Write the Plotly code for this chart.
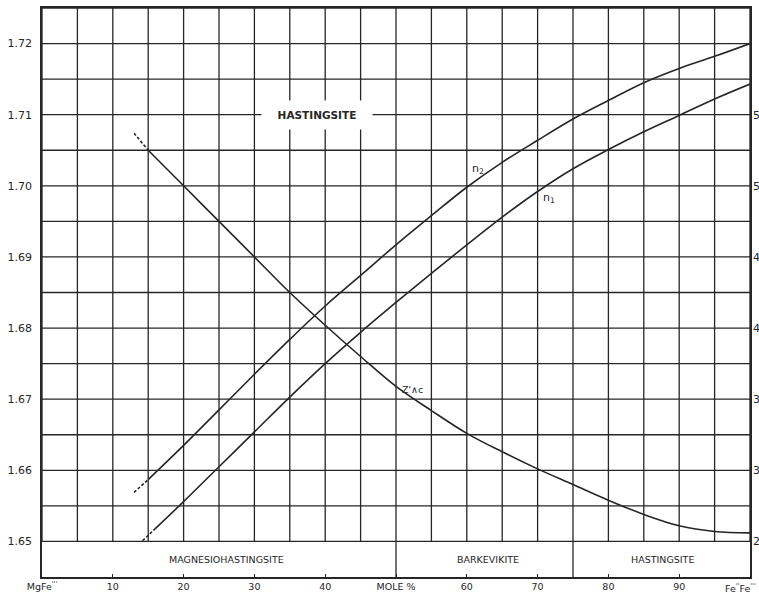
import plotly.graph_objects as go

# Composition (mole % Fe end-member) and measured properties
mole_n2 = [13, 15, 20, 25, 30, 35, 40, 45, 50, 55, 60, 65, 70, 75, 80, 85, 90, 95, 100]
n2 = [1.6569, 1.6587, 1.6635, 1.6685, 1.6735, 1.6784, 1.6831, 1.6874, 1.6917, 1.6958,
      1.6998, 1.7033, 1.7064, 1.7094, 1.7120, 1.7145, 1.7165, 1.7182, 1.7200]

mole_n1 = [14.2, 16, 20, 25, 30, 35, 40, 45, 50, 55, 60, 65, 70, 75, 80, 85, 90, 95, 100]
n1 = [1.6501, 1.6518, 1.6556, 1.6605, 1.6654, 1.6703, 1.6750, 1.6794, 1.6836, 1.6877,
      1.6917, 1.6956, 1.6992, 1.7024, 1.7051, 1.7076, 1.7099, 1.7122, 1.7143]

mole_z = [13, 15, 20, 25, 30, 35, 40, 45, 50, 55, 60, 65, 70, 75, 80, 85, 90, 95, 100]
z_ext = [53.7, 52.5, 50.0, 47.5, 45.0, 42.5, 40.2, 38.0, 35.9, 34.2, 32.6, 31.3,
         30.1, 29.0, 27.9, 26.9, 26.1, 25.7, 25.6]

# Extrapolated (dashed) ends of each curve
n2_dash_to = 15
n1_dash_to = 16
z_dash_to = 15

# Axis labels
x_ticks = [0, 10, 20, 30, 40, 50, 60, 70, 80, 90, 100]
x_ticktext = ["MgFe<sup>'''</sup>", "10", "20", "30", "40", "MOLE %", "60", "70", "80", "90", ""]
fe_end_label = "Fe<sup>''</sup>Fe<sup>'''</sup>"
n_ticks = [1.65, 1.66, 1.67, 1.68, 1.69, 1.70, 1.71, 1.72]
n_ticktext = ["1.65", "1.66", "1.67", "1.68", "1.69", "1.70", "1.71", "1.72"]
angle_ticks = [25, 30, 35, 40, 45, 50, 55]

# Mineral fields along the composition axis
fields = ["MAGNESIOHASTINGSITE", "BARKEVIKITE", "HASTINGSITE"]
field_bounds = [0, 50, 75, 100]
field_centers = [26, 63, 87.7]

INK = "#262626"
FONT = "DejaVu Sans"
Y_LO, Y_BAND, Y_HI = 1.645, 1.65, 1.725


def split(xs, ys, cut):
    """Return the dashed head and solid body of a curve, sharing the cut point."""
    head_x = [x for x in xs if x <= cut]
    head_y = ys[:len(head_x)]
    body_x = xs[len(head_x) - 1:]
    body_y = ys[len(head_x) - 1:]
    return head_x, head_y, body_x, body_y


fig = go.Figure()

for xs, ys, cut, axis in [(mole_n2, n2, n2_dash_to, "y"),
                          (mole_n1, n1, n1_dash_to, "y"),
                          (mole_z, z_ext, z_dash_to, "y2")]:
    hx, hy, bx, by = split(xs, ys, cut)
    fig.add_trace(go.Scatter(x=hx, y=hy, mode="lines", yaxis=axis,
                             line=dict(color=INK, width=1.6, dash="3px,2px")))
    fig.add_trace(go.Scatter(x=bx, y=by, mode="lines", yaxis=axis,
                             line=dict(color=INK, width=1.6, shape="spline", smoothing=1.0)))

# Ruled grid above the mineral-name band
shapes = []
for gx in range(0, 101, 5):
    shapes.append(dict(type="line", xref="x", yref="y", x0=gx, x1=gx, y0=Y_BAND, y1=Y_HI,
                       line=dict(color=INK, width=1.3), layer="below"))
for i in range(16):
    gy = round(Y_BAND + i * 0.005, 4)
    shapes.append(dict(type="line", xref="x", yref="y", x0=0, x1=100, y0=gy, y1=gy,
                       line=dict(color=INK, width=1.3), layer="below"))
for b in field_bounds[1:-1]:
    shapes.append(dict(type="line", xref="x", yref="y", x0=b, x1=b, y0=Y_LO, y1=Y_BAND,
                       line=dict(color=INK, width=1.3), layer="below"))

annotations = [
    dict(x=38.9, y=1.71, xref="x", yref="y", text="<b>HASTINGSITE</b>", showarrow=False,
         bgcolor="white", width=108, height=26, font=dict(family=FONT, size=10.5, color=INK)),
    dict(x=61.6, y=1.7023, xref="x", yref="y", text="n<sub>2</sub>", showarrow=False,
         font=dict(family=FONT, size=11, color=INK)),
    dict(x=71.6, y=1.6983, xref="x", yref="y", text="n<sub>1</sub>", showarrow=False,
         font=dict(family=FONT, size=11, color=INK)),
    dict(x=52.4, y=1.6714, xref="x", yref="y", text="Z'∧c", showarrow=False,
         font=dict(family=FONT, size=9.5, color=INK)),
    dict(x=98.6, y=0, xref="x", yref="paper", yanchor="top", yshift=-3, text=fe_end_label,
         showarrow=False, font=dict(family=FONT, size=9.5, color=INK)),
]
for name, cx in zip(fields, field_centers):
    annotations.append(dict(x=cx, y=(Y_LO + Y_BAND) / 2, xref="x", yref="y", text=name,
                            showarrow=False, font=dict(family=FONT, size=9.5, color=INK)))

fig.update_layout(
    width=759, height=598,
    margin=dict(l=42, r=9, t=8, b=21, autoexpand=False),
    paper_bgcolor="white", plot_bgcolor="white",
    showlegend=False,
    shapes=shapes,
    annotations=annotations,
    xaxis=dict(range=[0, 100], tickvals=x_ticks, ticktext=x_ticktext, automargin=False,
               showgrid=False, zeroline=False, showline=True, mirror=True,
               linecolor=INK, linewidth=1.6, ticks="inside", ticklen=3,
               ticklabeloverflow="allow",
               tickcolor=INK, tickfont=dict(family=FONT, size=9.5, color=INK)),
    yaxis=dict(range=[Y_LO, Y_HI], tickvals=n_ticks, ticktext=n_ticktext, automargin=False,
               showgrid=False, zeroline=False, showline=True, mirror=True,
               linecolor=INK, linewidth=1.6, ticks="", ticklabelstandoff=6,
               tickfont=dict(family=FONT, size=11, color=INK)),
    yaxis2=dict(range=[22.5, 62.5], tickvals=angle_ticks, overlaying="y", side="right",
                automargin=False, showgrid=False, zeroline=False, showline=False, ticks="",
                ticklabelstandoff=2, ticklabeloverflow="allow",
                tickfont=dict(family=FONT, size=11, color=INK)),
)

fig.write_html("out.html")
